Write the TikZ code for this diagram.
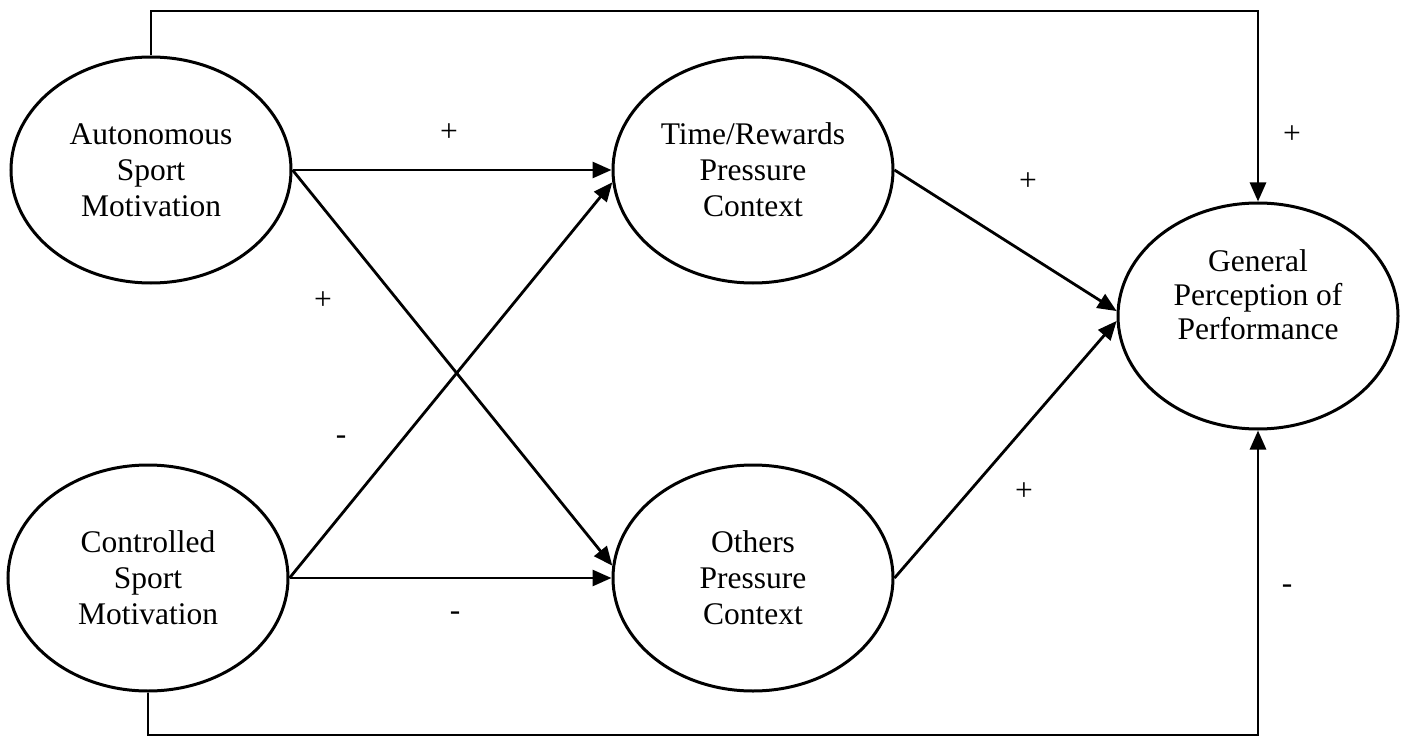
\documentclass[tikz,border=0pt]{standalone}
\usepackage{fontspec}
\setmainfont{Liberation Serif}
\usetikzlibrary{shapes.geometric,arrows.meta}
\tikzset{
  oval/.style={draw, ellipse, line width=3pt, minimum width=280pt, minimum height=226pt, inner sep=0pt, align=center, font=\fontsize{31.5}{36}\selectfont},
  gtext/.style={align=center, inner sep=0pt, font=\fontsize{31.5}{34}\selectfont},
  arr/.style={line width=2.8pt, -{Triangle[length=19pt,width=16pt]}},
  sign/.style={inner sep=0pt, font=\fontsize{31.5}{36}\selectfont}
}
\begin{document}
\begin{tikzpicture}[x=1pt,y=-1pt]
\useasboundingbox (0,0) rectangle (1403,738);
\node[oval] (A) at (151,170) {Autonomous\\Sport\\Motivation};
\node[oval] (C) at (148,578) {Controlled\\Sport\\Motivation};
\node[oval] (T) at (753,170) {Time/Rewards\\Pressure\\Context};
\node[oval] (O) at (753,578) {Others\\Pressure\\Context};
\node[oval] (G) at (1258,316) {};
\node[gtext] (Gt) at (1258,295) {General\\Perception of\\Performance};
\coordinate (p1) at (151,11);
\coordinate (p2) at (1258,11);
\coordinate (q1) at (148,735);
\coordinate (q2) at (1258,735);
\draw[arr] (A.east) -- (T.west);
\draw[arr] (A.east) -- (O.175);
\draw[arr] (C.east) -- (T.185);
\draw[arr] (C.east) -- (O.west);
\draw[arr] (T.east) -- (G.178);
\draw[arr] (O.east) -- (G.182);
\draw[arr] (A.north) -- (p1) -- (p2) -- (G.north);
\draw[arr] (C.south) -- (q1) -- (q2) -- (G.south);
\node[sign] (s1) at (449,133) {+};
\node[sign] (s2) at (323,301) {+};
\node[sign] (s3) at (341,440) {-};
\node[sign] (s4) at (455,616) {-};
\node[sign] (s5) at (1028,182) {+};
\node[sign] (s6) at (1024,492) {+};
\node[sign] (s7) at (1292,135) {+};
\node[sign] (s8) at (1287,589) {-};
\end{tikzpicture}
\end{document}
